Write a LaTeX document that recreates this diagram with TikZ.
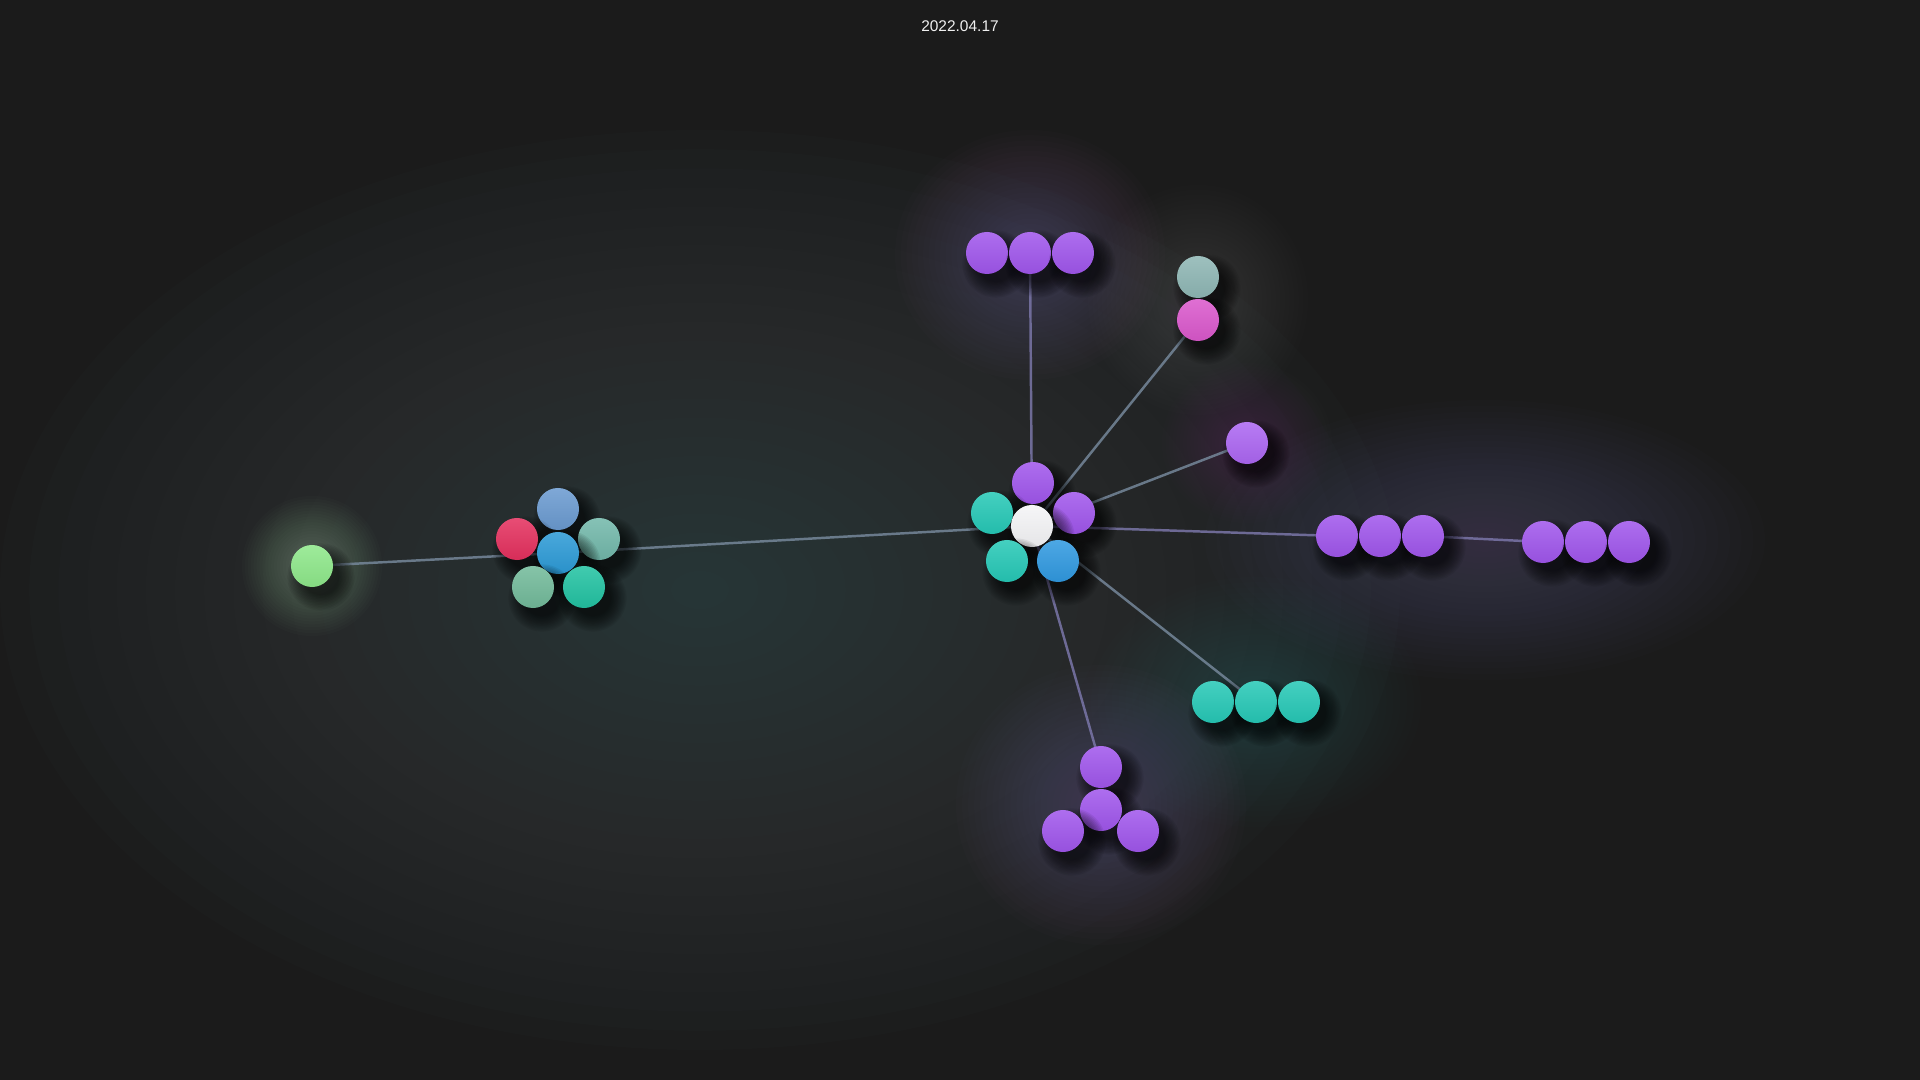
\documentclass[tikz,border=0pt]{standalone}
\usepackage{fontspec}
\setmainfont{Liberation Sans}
\pgfdeclarelayer{bgl}
\pgfdeclarelayer{glows}
\pgfdeclarelayer{edges}
\pgfsetlayers{bgl,glows,edges,main}
\definecolor{bgc}{HTML}{1B1B1B}
\definecolor{hazec}{HTML}{3F5052}
\definecolor{glowp}{HTML}{7A5E98}
\definecolor{glowk}{HTML}{7C6280}
\definecolor{glowt}{HTML}{3F7E6E}
\definecolor{glowg}{HTML}{B0DCB0}
\definecolor{cpurple}{HTML}{A056EC}
\definecolor{cpurplel}{HTML}{AC66F2}
\definecolor{cteal}{HTML}{26C8B6}
\definecolor{cblue}{HTML}{3099E0}
\definecolor{cwhite}{HTML}{F4F4F6}
\definecolor{csteel}{HTML}{6A9AD0}
\definecolor{cred}{HTML}{E4305E}
\definecolor{cgteal}{HTML}{72B8AA}
\definecolor{cmblue}{HTML}{2C9AD6}
\definecolor{cmgreen}{HTML}{72BA9A}
\definecolor{cgreenteal}{HTML}{22C2A2}
\definecolor{cgreen}{HTML}{8EE88A}
\definecolor{cgray}{HTML}{8EB6B4}
\definecolor{cpink}{HTML}{DA58CC}
\definecolor{edgec}{HTML}{75879A}
\definecolor{edgep}{HTML}{7A76A8}
\tikzset{
  ball/.style={circle, minimum size=0.42cm, inner sep=0pt,
    top color=#1!86!white, bottom color=#1!94!black},
  link/.style={draw=edgec, line width=0.7pt, opacity=0.85},
  plink/.style={draw=edgep, line width=0.7pt, opacity=0.85},
  title/.style={text=white!94!black, font=\fontsize{4.4}{5}\selectfont}
}
% soft glow: #1 colour, #2 centre, #3 rx, #4 ry, #5 per-step opacity
\newcommand\softglow[5]{%
  \foreach \k in {1,...,24}{%
    \fill[#1, opacity=#5] #2 ellipse ({#3/24*\k} and {#4/24*\k});
  }}
% ball with soft shadow: #1 name, #2 colour, #3 x, #4 y
\newcommand\myball[4]{%
  \foreach \k in {1,...,12}{%
    \fill[black, opacity=0.065] ({#3+9},{#4+11}) circle ({35-1.4*\k});
  }
  \node[ball=#2] (#1) at (#3,#4) {};
}
\begin{document}
\begin{tikzpicture}[x=0.01cm,y=-0.01cm]
\useasboundingbox (0,0) rectangle (1920,1080);
\begin{pgfonlayer}{bgl}
\fill[bgc] (0,0) rectangle (1920,1080);
\end{pgfonlayer}
\begin{pgfonlayer}{glows}
\softglow{hazec}{(700,590)}{700}{460}{0.038}
\softglow{hazec}{(1000,520)}{420}{360}{0.012}
\softglow{glowp}{(1030,255)}{135}{125}{0.022}
\softglow{glowk}{(1198,300)}{110}{115}{0.02}
\softglow{glowp}{(1247,443)}{85}{80}{0.016}
\softglow{glowp}{(1485,540)}{280}{140}{0.02}
\softglow{glowt}{(1256,702)}{165}{125}{0.02}
\softglow{glowp}{(1101,805)}{145}{140}{0.022}
\softglow{glowg}{(312,566)}{70}{70}{0.02}
\end{pgfonlayer}

\node[title] (title) at (960,26) {2022.04.17};

% left
\myball{G}{cgreen}{312}{566}
\myball{L1}{csteel}{558}{509}
\myball{L2}{cred}{517}{539}
\myball{L3}{cgteal}{599}{539}
\myball{L0}{cmblue}{558}{553}
\myball{L4}{cmgreen}{533}{587}
\myball{L5}{cgreenteal}{584}{587}

% centre
\myball{C1}{cpurple}{1033}{483}
\myball{C3}{cteal}{992}{513}
\myball{C2}{cpurple}{1074}{513}
\myball{C}{cwhite}{1032}{526}
\myball{C4}{cteal}{1007}{561}
\myball{C5}{cblue}{1058}{561}

% top trio
\myball{T1}{cpurple}{987}{253}
\myball{T2}{cpurple}{1030}{253}
\myball{T3}{cpurple}{1073}{253}

% pair
\myball{P1}{cgray}{1198}{277}
\myball{P2}{cpink}{1198}{320}

% lone
\myball{Q}{cpurplel}{1247}{443}

% right trios
\myball{R1}{cpurple}{1337}{536}
\myball{R2}{cpurple}{1380}{536}
\myball{R3}{cpurple}{1423}{536}
\myball{S1}{cpurple}{1543}{542}
\myball{S2}{cpurple}{1586}{542}
\myball{S3}{cpurple}{1629}{542}

% teal trio
\myball{U1}{cteal}{1213}{702}
\myball{U2}{cteal}{1256}{702}
\myball{U3}{cteal}{1299}{702}

% bottom group
\myball{V1}{cpurple}{1101}{767}
\myball{V2}{cpurple}{1101}{810}
\myball{V3}{cpurple}{1063}{831}
\myball{V4}{cpurple}{1138}{831}

\begin{pgfonlayer}{edges}
\draw[link] (G.center) -- (L0.center);
\draw[link] (L0.center) -- (C.center);
\draw[plink] (C.center) -- (T2.center);
\draw[link] (C.center) -- (P2.center);
\draw[link] (C.center) -- (Q.center);
\draw[plink] (C.center) -- (R1.center);
\draw[plink] (R3.center) -- (S1.center);
\draw[link] (C.center) -- (U2.center);
\draw[plink] (C.center) -- (V1.center);
\end{pgfonlayer}
\end{tikzpicture}
\end{document}
